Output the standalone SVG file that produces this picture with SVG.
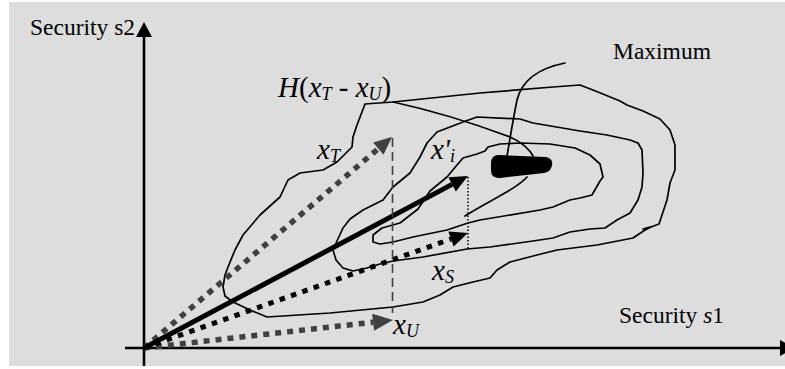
<svg xmlns="http://www.w3.org/2000/svg" width="785" height="369" viewBox="0 0 785 369">
<style>
.lbl{font-family:"Liberation Serif","Times New Roman",serif;font-size:23.5px;fill:#000}
.math{font-family:"Liberation Serif","Times New Roman",serif;font-size:29px;font-style:italic;fill:#000}
.sub{font-size:18px}
.up{font-style:normal}
.contour{fill:none;stroke:#000;stroke-width:1.7;stroke-linejoin:round;stroke-linecap:round}
.axis{stroke:#000;stroke-width:2.6;fill:none}
.gdot{stroke:#404040;stroke-width:5.5;stroke-dasharray:6 6;fill:none}
.bdot{stroke:#000;stroke-width:5;stroke-dasharray:5.5 6.5;fill:none}
.solid{stroke:#000;stroke-width:5;fill:none}
</style>
<defs>
<marker id="headGray" markerUnits="userSpaceOnUse" markerWidth="20" markerHeight="18" viewBox="0 -9 20 18" refX="0" refY="0" orient="auto" overflow="visible">
<path d="M0,-8 L18,0 L0,8 Z" fill="#404040"/>
</marker>
<marker id="headGrayL" markerUnits="userSpaceOnUse" markerWidth="22" markerHeight="20" viewBox="0 -10 22 20" refX="0" refY="0" orient="auto" overflow="visible">
<path d="M0,-8.5 L20,0 L0,8.5 Z" fill="#404040"/>
</marker>
<marker id="headBlack" markerUnits="userSpaceOnUse" markerWidth="20" markerHeight="18" viewBox="0 -9 20 18" refX="0" refY="0" orient="auto" overflow="visible">
<path d="M0,-8 L18,0 L0,8 Z" fill="#000"/>
</marker>
</defs>
<rect x="0" y="0" width="785" height="369" fill="#fff"/>
<rect x="9" y="2" width="776" height="364" fill="#dddddd"/>

<g id="axes">
<line class="axis" x1="144" y1="36" x2="144" y2="366"/>
<polygon points="144,22 136,37 152,37" fill="#000"/>
<line class="axis" x1="125" y1="348" x2="781" y2="348"/>
<polygon points="795,348 780,340 780,356" fill="#000"/>
</g>

<g id="contours">
<path id="contour-outer" class="contour" d="M365,104 L393,102 L480,93 L553,87 L580,85 L598,92 L620,101 L627,105 L643,111 L660,119 L670,130 L675,145 L675,170 L670,183 L667,200 L659,224 L651,227 L645,230 L633,238 L597,245 L557,250 L537,255 L510,262 L497,270 L490,278 L473,282 L453,287 L440,295 L423,302 L393,307 L330,313 L267,317 L250,310 L233,302 L225,296 L223,287 L225,275 L228,267 L235,250 L243,235 L260,215 L280,197 L288,180 L300,173 L323,170 L337,162 L352,147 L353,137 L357,125 Z M643,229 L650,227"/>
<path id="contour-middle" class="contour" d="M477,117 L520,119 L533,123 L580,131 L607,135 L630,140 L638,143 L642,150 L643,173 L642,187 L638,200 L630,213 L617,220 L605,228 L590,229 L570,232 L553,238 L533,241 L490,247 L467,249 L423,257 L393,261 L380,264 L367,268 L353,271 L343,268 L336,260 L333,250 L337,241 L343,228 L350,219 L363,210 L383,200 L393,187 L410,173 L420,157 L427,143 L437,132 L463,122 Z"/>
<path id="contour-inner" class="contour" d="M430,191 L447,177 L457,165 L463,158 L477,154 L485,151 L488,147 L500,144 L520,143 L550,144 L575,148 L590,155 L600,164 L603,177 L600,181 L592,195 L580,198 L570,200 L553,207 L540,210 L480,220 L468,223 L447,230 L413,237 L393,242 L380,244 L373,242 L373,235 L382,228 L400,223 L418,209 Z"/>
<path id="h-line" class="contour" d="M393,102 C430,110 470,122 510,137 C522,142 530,150 533,156"/>
<path id="blob-line" class="contour" d="M527,177 C515,190 490,200 465,216"/>
</g>

<g id="maximum">
<path d="M491,162 C492,157 494,155 499,155 L546,157 C551,158 553,161 552,165 C551,170 549,172 544,173 L500,178 C494,178 491,176 491,170 Z" fill="#000"/>
<path class="contour" d="M565,63 C540,68 522,80 517,100 C512,125 509,145 507,156"/>
<text class="lbl" x="613" y="59">Maximum</text>
</g>

<g id="connectors">
<line class="gdot" x1="144" y1="348" x2="378.3" y2="148.7" marker-end="url(#headGray)"/>
<line class="gdot" x1="144" y1="348" x2="373.1" y2="322.2" marker-end="url(#headGrayL)"/>
<line class="bdot" x1="144" y1="348" x2="451" y2="239" marker-end="url(#headBlack)"/>
<line class="solid" x1="144" y1="348" x2="452.1" y2="184.4" marker-end="url(#headBlack)"/>
<line x1="392.5" y1="138" x2="392.5" y2="313" stroke="#404040" stroke-width="1.6" stroke-dasharray="9 5"/>
<line x1="468" y1="177" x2="468" y2="249" stroke="#000" stroke-width="1.5" stroke-dasharray="1.5 2"/>
</g>

<g id="labels">
<text class="lbl" x="30" y="35">Security s2</text>
<text class="lbl" x="619" y="323">Security <tspan font-style="italic">s</tspan>1</text>
<text class="math" x="278" y="97">H<tspan class="up">(</tspan>x<tspan class="sub" dy="3">T</tspan><tspan class="up" dy="-3"> - </tspan>x<tspan class="sub" dy="3">U</tspan><tspan class="up" dy="-3">)</tspan></text>
<text class="math" x="317" y="159">x<tspan class="sub" dy="3">T</tspan></text>
<text class="math" x="431" y="159">x'<tspan class="sub" dy="3">i</tspan></text>
<text class="math" x="432" y="280">x<tspan class="sub" dy="3">S</tspan></text>
<text class="math" x="393" y="334">x<tspan class="sub" dy="3">U</tspan></text>
</g>
</svg>
